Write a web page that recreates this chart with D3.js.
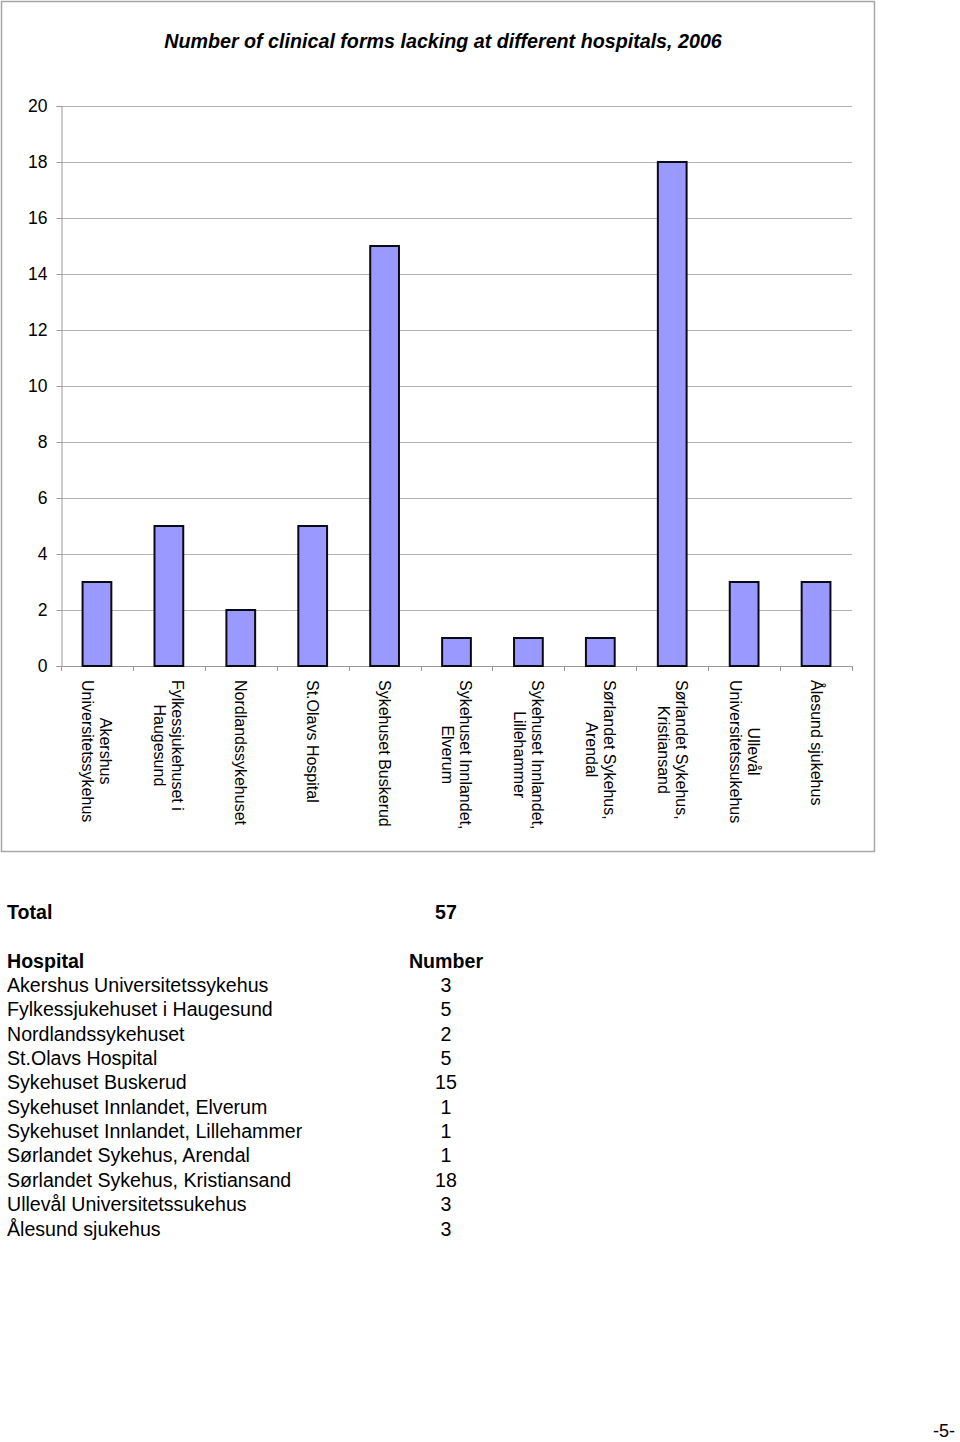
<!DOCTYPE html>
<html>
<head>
<meta charset="utf-8">
<script src="https://cdn.jsdelivr.net/npm/d3@7"></script>
<style>
  body { margin: 0; background: #fff; }
  svg { display: block; font-family: "Liberation Sans", Arial, sans-serif; }
</style>
</head>
<body>
<svg id="page" width="960" height="1442"></svg>
<script>
// chart data
const hospitalLabels = [
    ["Akershus", "Universitetssykehus"],
    ["Fylkessjukehuset i", "Haugesund"],
    ["Nordlandssykehuset"],
    ["St.Olavs Hospital"],
    ["Sykehuset Buskerud"],
    ["Sykehuset Innlandet,", "Elverum"],
    ["Sykehuset Innlandet,", "Lillehammer"],
    ["Sørlandet Sykehus,", "Arendal"],
    ["Sørlandet Sykehus,", "Kristiansand"],
    ["Ullevål", "Universitetssukehus"],
    ["Ålesund sjukehus"]
];
const lacking = [3, 5, 2, 5, 15, 1, 1, 1, 18, 3, 3];
const yTicks = [0, 2, 4, 6, 8, 10, 12, 14, 16, 18, 20];

const title = "Number of clinical forms lacking at different hospitals, 2006";

const svg = d3.select("#page");

// chart frame
svg.append("rect")
    .attr("x", 1.5).attr("y", 1.5)
    .attr("width", 873).attr("height", 850)
    .attr("fill", "#fff")
    .attr("stroke", "#a6a6a6")
    .attr("stroke-width", 1.5);

svg.append("text")
    .attr("x", 443).attr("y", 48)
    .attr("text-anchor", "middle")
    .attr("font-size", 19.7)
    .attr("font-weight", "bold")
    .attr("font-style", "italic")
    .text(title);

const plot = { left: 61, right: 852, top: 106, bottom: 666 };

const x = d3.scaleBand()
    .domain(d3.range(lacking.length))
    .range([plot.left, plot.right])
    .paddingInner(0.6)
    .paddingOuter(0.3);

const y = d3.scaleLinear()
    .domain([0, 20])
    .range([plot.bottom, plot.top]);

// gridlines
svg.append("g")
    .selectAll("line")
    .data(yTicks.filter(d => d > 0))
    .join("line")
    .attr("x1", plot.left).attr("x2", plot.right)
    .attr("y1", d => y(d) + 0.5).attr("y2", d => y(d) + 0.5)
    .attr("stroke", "#b3b3b3");

// y axis
const yAxis = svg.append("g")
    .attr("transform", `translate(${plot.left + 0.5},0)`)
    .call(d3.axisLeft(y).tickValues(yTicks).tickSize(5).tickPadding(9));
yAxis.select(".domain").attr("stroke", "#999");
yAxis.selectAll(".tick line").attr("stroke", "#999");
yAxis.selectAll(".tick text")
    .attr("font-size", 17.5)
    .attr("font-family", "Liberation Sans, Arial, sans-serif")
    .attr("fill", "#000");

// x axis baseline + category ticks
const bounds = d3.range(lacking.length + 1).map(i => plot.left + i * (plot.right - plot.left) / lacking.length);
svg.append("line")
    .attr("x1", plot.left).attr("x2", plot.right)
    .attr("y1", plot.bottom + 0.5).attr("y2", plot.bottom + 0.5)
    .attr("stroke", "#999");
svg.append("g")
    .selectAll("line")
    .data(bounds)
    .join("line")
    .attr("x1", d => Math.round(d) + 0.5).attr("x2", d => Math.round(d) + 0.5)
    .attr("y1", plot.bottom).attr("y2", plot.bottom + 5)
    .attr("stroke", "#999");

// bars
svg.append("g")
    .selectAll("rect")
    .data(lacking)
    .join("rect")
    .attr("x", (d, i) => x(i))
    .attr("y", d => y(d))
    .attr("width", x.bandwidth())
    .attr("height", d => y(0) - y(d))
    .attr("fill", "#9999ff")
    .attr("stroke", "#0a0a14")
    .attr("stroke-width", 2);

// rotated category labels
const lineH = 18;
const labelG = svg.append("g")
    .selectAll("text")
    .data(hospitalLabels)
    .join("text")
    .attr("transform", (d, i) => `translate(${x(i) + x.bandwidth() / 2},680) rotate(90)`)
    .attr("font-size", 16)
    .attr("fill", "#000");

labelG.selectAll("tspan")
    .data(d => d.map((t, j) => ({ t, j, n: d.length })))
    .join("tspan")
    .attr("y", d => (d.j - (d.n - 1) / 2) * lineH)
    .attr("dominant-baseline", "central")
    .attr("text-anchor", "middle")
    .text(d => d.t);

labelG.each(function () {
    const spans = d3.select(this).selectAll("tspan");
    let maxW = 0;
    spans.each(function () { maxW = Math.max(maxW, this.getComputedTextLength()); });
    spans.attr("x", maxW / 2);
});

// summary table
const fs = 19.6;
svg.append("text").attr("x", 7).attr("y", 919)
    .attr("font-size", fs).attr("font-weight", "bold").text("Total");
svg.append("text").attr("x", 446).attr("y", 919)
    .attr("text-anchor", "middle")
    .attr("font-size", fs).attr("font-weight", "bold").text(d3.sum(lacking));

svg.append("text").attr("x", 7).attr("y", 967.5)
    .attr("font-size", fs).attr("font-weight", "bold").text("Hospital");
svg.append("text").attr("x", 446).attr("y", 967.5)
    .attr("text-anchor", "middle")
    .attr("font-size", fs).attr("font-weight", "bold").text("Number");

const rowY = d3.scaleLinear().domain([0, 1]).range([992, 1016.35]);
const rows = svg.append("g")
    .selectAll("g")
    .data(hospitalLabels.map((l, i) => ({ name: l.join(" "), v: lacking[i] })))
    .join("g")
    .attr("transform", (d, i) => `translate(0,${rowY(i)})`);
rows.append("text").attr("x", 7).attr("font-size", fs).text(d => d.name);
rows.append("text").attr("x", 446).attr("text-anchor", "middle").attr("font-size", fs).text(d => d.v);

// page number
svg.append("text").attr("x", 944).attr("y", 1437)
    .attr("text-anchor", "middle")
    .attr("font-size", 18).text("-5-");
</script>
</body>
</html>
